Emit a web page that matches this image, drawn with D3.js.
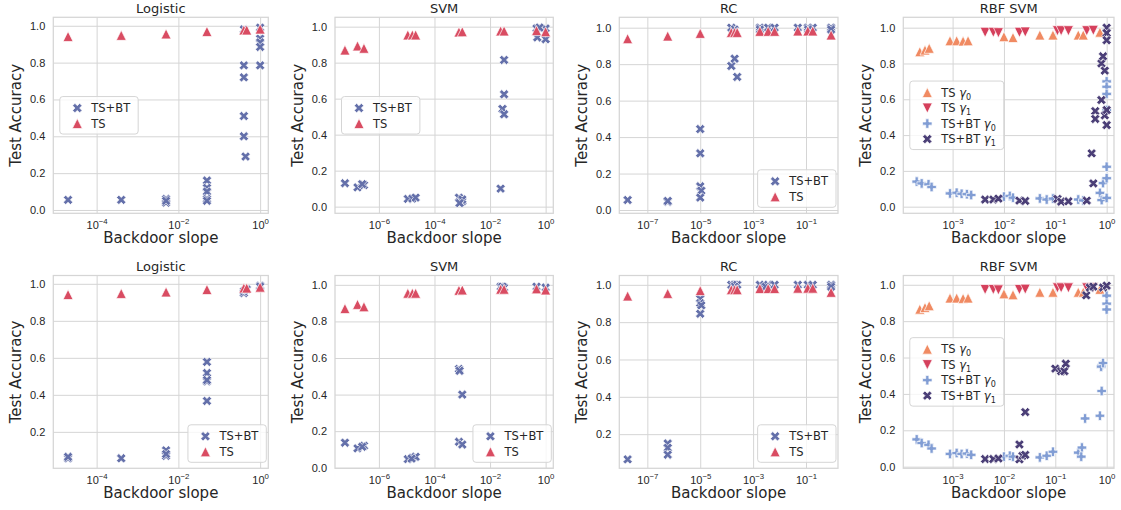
<!DOCTYPE html>
<html>
<head>
<meta charset="utf-8">
<script src="https://cdn.jsdelivr.net/npm/d3@7"></script>
<style>
  body { margin: 0; background: #fff; }
  svg { font-family: "DejaVu Sans", sans-serif; }
</style>
</head>
<body>
<svg id="chart" width="1121" height="510"></svg>
<script>

// ---- data: [backdoor slope, test accuracy] ----
var logisticTS = [[2e-5,0.942],[4e-4,0.948],[5e-3,0.956],[5e-2,0.969],[0.4,0.977],[0.47,0.977],[1.0,0.982]];
var logisticTopBT = [[2e-5,0.055],[4e-4,0.055],[5e-3,0.04],[5e-3,0.06],[5e-3,0.05],[5e-2,0.16],[5e-2,0.12],[5e-2,0.1],
  [5e-2,0.06],[5e-2,0.05],[0.4,0.785],[0.4,0.72],[0.4,0.51],[0.4,0.40],[0.44,0.29],[0.4,0.98],[1.0,0.785],[1.0,0.93],
  [1.0,0.91],[1.0,0.885],[1.0,0.99]];
var logisticBotBT = [[2e-5,0.057],[2e-5,0.065],[4e-4,0.057],[5e-3,0.10],[5e-3,0.07],[5e-3,0.08],[5e-2,0.578],[5e-2,0.518],
  [5e-2,0.473],[5e-2,0.48],[5e-2,0.367],[0.4,0.95],[0.4,0.96],[0.47,0.97],[1.0,0.99],[1.0,0.985]];

var svmTS = [[6e-8,0.87],[1.7e-7,0.893],[2.9e-7,0.88],[1.1e-5,0.954],[1.6e-5,0.954],[2.1e-5,0.954],[7.6e-4,0.97],
  [1e-3,0.972],[0.024,0.976],[0.032,0.976],[0.47,0.978],[1.0,0.972]];
var svmTopBT = [[6e-8,0.13],[1.7e-7,0.107],[2.9e-7,0.12],[2.5e-7,0.125],[1.1e-5,0.043],[1.6e-5,0.045],[2.1e-5,0.05],
  [7.6e-4,0.05],[1e-3,0.03],[1e-3,0.04],[8e-4,0.02],[0.024,0.10],[0.032,0.815],[0.032,0.624],[0.028,0.543],[0.032,0.513],
  [0.47,0.99],[0.5,0.94],[1.0,0.93],[1.0,0.99],[0.6,0.995]];
var svmBotBT = [[6e-8,0.137],[1.7e-7,0.106],[2.9e-7,0.12],[2.5e-7,0.115],[1.1e-5,0.047],[1.6e-5,0.055],[2.1e-5,0.06],
  [1.5e-5,0.05],[7.6e-4,0.54],[8e-4,0.53],[1e-3,0.40],[7.6e-4,0.142],[1e-3,0.127],[0.024,0.99],[0.032,0.985],
  [0.028,0.99],[0.47,0.99],[1.0,0.985]];

var rcTS = [[1.8e-8,0.94],[5.9e-7,0.954],[1e-5,0.969],[1.5e-4,0.974],[2e-4,0.974],[2.5e-4,0.974],[1.8e-3,0.98],
  [3.7e-3,0.98],[6.5e-3,0.98],[0.049,0.982],[0.117,0.982],[0.18,0.982],[0.89,0.96]];
var rcTopBT = [[1.8e-8,0.055],[5.9e-7,0.045],[5.9e-7,0.05],[1e-5,0.444],[1e-5,0.311],[1e-5,0.13],[1.1e-5,0.106],
  [1e-5,0.068],[1.5e-4,0.79],[2e-4,0.83],[2.5e-4,0.73],[1.5e-4,1.0],[2e-4,0.99],[1.8e-3,1.0],[3.7e-3,1.0],[6.5e-3,1.0],
  [1.8e-3,0.99],[0.049,1.0],[0.117,1.0],[0.18,1.0],[0.12,0.99],[0.89,1.0],[0.89,0.99]];
var rcBotBT = [[1.8e-8,0.065],[5.9e-7,0.15],[5.9e-7,0.127],[5.9e-7,0.09],[1e-5,0.925],[1e-5,0.902],[1.1e-5,0.89],
  [1e-5,0.845],[1.5e-4,1.0],[2e-4,1.0],[2.5e-4,1.0],[2e-4,0.99],[1.8e-3,1.0],[3.7e-3,1.0],[6.5e-3,1.0],[3e-3,0.99],
  [0.049,1.0],[0.117,1.0],[0.18,1.0],[0.89,1.0],[0.89,0.99]];

var rbfTS0 = [[2.3e-4,0.866],[2.9e-4,0.875],[3.5e-4,0.885],[8.9e-4,0.927],[1.2e-3,0.927],[1.6e-3,0.925],[2e-3,0.927],
  [0.01,0.95],[0.015,0.945],[0.05,0.959],[0.09,0.959],[0.28,0.959],[0.35,0.959],[0.74,0.975]];
var rbfTS1 = [[4.3e-3,0.974],[6.2e-3,0.974],[7.8e-3,0.972],[0.02,0.974],[0.026,0.976],[0.11,0.983],[0.13,0.983],
  [0.18,0.983],[0.41,0.983],[0.55,0.985]];
var rbfTopBT0 = [[2e-4,0.14],[2.5e-4,0.13],[3.4e-4,0.125],[3.9e-4,0.11],[8.9e-4,0.074],[1.2e-3,0.078],[1.5e-3,0.072],
  [1.9e-3,0.07],[2.3e-3,0.065],[0.01,0.056],[0.013,0.06],[0.015,0.05],[0.05,0.046],[0.068,0.04],[0.09,0.045],[0.28,0.04],
  [0.35,0.035],[0.74,0.077],[0.8,0.037],[0.85,0.132],[1.0,0.159],[1.0,0.223],[1.0,0.049],[1.0,0.70],[1.0,0.67],
  [1.0,0.63],[1.0,0.54]];
var rbfTopBT1 = [[4.3e-3,0.04],[6.2e-3,0.04],[7.8e-3,0.045],[0.02,0.034],[0.026,0.032],[0.11,0.043],[0.13,0.028],
  [0.18,0.03],[0.41,0.034],[0.51,0.298],[0.55,0.13],[0.6,0.534],[0.6,0.49],[0.79,0.80],[0.79,0.596],[0.85,0.84],
  [0.92,0.76],[0.92,0.51],[1.0,1.0],[1.0,0.97],[1.0,0.93],[1.0,0.456],[1.0,0.54]];
var rbfBotBT0 = [[2e-4,0.15],[2.5e-4,0.13],[3.4e-4,0.12],[3.9e-4,0.10],[8.9e-4,0.07],[1.2e-3,0.075],[1.5e-3,0.07],
  [1.9e-3,0.072],[2.3e-3,0.065],[0.01,0.055],[0.013,0.06],[0.015,0.055],[0.05,0.051],[0.068,0.06],[0.09,0.082],
  [0.28,0.077],[0.33,0.105],[0.32,0.055],[0.38,0.265],[0.74,0.28],[0.8,0.416],[0.8,0.557],[0.78,0.55],[0.85,0.57],
  [1.0,0.94],[1.0,0.896],[1.0,0.864]];
var rbfBotBT1 = [[4.3e-3,0.042],[6.2e-3,0.042],[7.8e-3,0.045],[0.02,0.122],[0.02,0.04],[0.023,0.06],[0.026,0.065],
  [0.026,0.30],[0.1,0.539],[0.13,0.525],[0.15,0.525],[0.16,0.566],[0.4,0.942],[0.47,0.985],[0.55,0.99],[0.85,0.985],
  [1.0,0.995]];

// tick exponents per model
var logisticTicks = [-4, -2, 0];
var svmTicks = [-6, -4, -2, 0];
var rcTicks = [-7, -5, -3, -1];
var rbfTicks = [-3, -2, -1, 0];
var yTicks = [0, 0.2, 0.4, 0.6, 0.8, 1.0];

var titles = ["Logistic", "SVM", "RC", "RBF SVM"];
var labelsTwo = ["TS+BT", "TS"];
var labelsRbf = ["TS γ0", "TS γ1", "TS+BT γ0", "TS+BT γ1"];

// ---- layout ----
var cols = [{l: 53.3, r: 268.3}, {l: 335, r: 553.3}, {l: 619.3, r: 838}, {l: 903.3, r: 1114}];
var rows = [{t: 17.3, b: 213.3}, {t: 275.5, b: 468.3}];

var C = {bt: "#6470aa", ts: "#d94c62", ts0: "#f08a62", ts1: "#d5405c", bt0: "#819dd4", bt1: "#4b3f77"};

function two(bt, ts) {
  return [
    {label: labelsTwo[0], data: bt, shape: "x", color: C.bt},
    {label: labelsTwo[1], data: ts, shape: "up", color: C.ts}
  ];
}
function four(bt0, bt1) {
  return [
    {label: labelsRbf[0], data: rbfTS0, shape: "up", color: C.ts0},
    {label: labelsRbf[1], data: rbfTS1, shape: "down", color: C.ts1},
    {label: labelsRbf[2], data: bt0, shape: "plus", color: C.bt0},
    {label: labelsRbf[3], data: bt1, shape: "x", color: C.bt1}
  ];
}

var panels = [
  {row: 0, col: 0, xd: [-5.06, 0.20], yd: [-0.018, 1.046], ticks: logisticTicks, series: two(logisticTopBT, logisticTS), legend: "left"},
  {row: 0, col: 1, xd: [-7.58, 0.276], yd: [-0.037, 1.052], ticks: svmTicks, series: two(svmTopBT, svmTS), legend: "left"},
  {row: 0, col: 2, xd: [-8.06, 0.21], yd: [-0.018, 1.057], ticks: rcTicks, series: two(rcTopBT, rcTS), legend: "lowerright"},
  {row: 0, col: 3, xd: [-3.96, 0.143], yd: [-0.037, 1.058], ticks: rbfTicks, series: four(rbfTopBT0, rbfTopBT1), legend: "left"},
  {row: 1, col: 0, xd: [-5.06, 0.20], yd: [0.003, 1.045], ticks: logisticTicks, series: two(logisticBotBT, logisticTS), legend: "lowerright"},
  {row: 1, col: 1, xd: [-7.58, 0.276], yd: [-0.003, 1.051], ticks: svmTicks, series: two(svmBotBT, svmTS), legend: "lowerright"},
  {row: 1, col: 2, xd: [-8.06, 0.21], yd: [0.017, 1.05], ticks: rcTicks, series: two(rcBotBT, rcTS), legend: "lowerright"},
  {row: 1, col: 3, xd: [-3.96, 0.143], yd: [-0.009, 1.051], ticks: rbfTicks, series: four(rbfBotBT0, rbfBotBT1), legend: "left"}
];

// matplotlib-like filled markers
function markerPath(shape, size) {
  var h = size / 2, a = h / 3;
  if (shape === "up") return "M0," + (-h) + "L" + h + "," + h + "L" + (-h) + "," + h + "Z";
  if (shape === "down") return "M0," + h + "L" + h + "," + (-h) + "L" + (-h) + "," + (-h) + "Z";
  var pts = [[-a,-h],[a,-h],[a,-a],[h,-a],[h,a],[a,a],[a,h],[-a,h],[-a,a],[-h,a],[-h,-a],[-a,-a]];
  if (shape === "x") {
    var c = Math.SQRT1_2;
    pts = pts.map(function(p) { return [(p[0] - p[1]) * c, (p[0] + p[1]) * c]; });
  }
  return "M" + pts.map(function(p) { return p[0].toFixed(2) + "," + p[1].toFixed(2); }).join("L") + "Z";
}

var markerSize = {up: 10, down: 10, plus: 9.5, x: 10};
var textColor = "#262626", gridColor = "#d5d5d5";

var svg = d3.select("#chart");

function addLabel(sel, label) {
  // "TS γ0" -> TS + italic gamma + subscript
  var m = label.match(/^(.*)γ(\d)$/);
  if (!m) { sel.text(label); return; }
  sel.append("tspan").text(m[1]);
  sel.append("tspan").attr("font-style", "italic").text("γ");
  sel.append("tspan").attr("font-size", "0.7em").attr("dy", 3).text(m[2]);
}

panels.forEach(function(p) {
  var c = cols[p.col], r = rows[p.row];
  var w = c.r - c.l, h = r.b - r.t;

  var x = d3.scaleLog()
    .domain([Math.pow(10, p.xd[0]), Math.pow(10, p.xd[1])])
    .range([0, w]);
  var y = d3.scaleLinear()
    .domain(p.yd)
    .range([h, 0]);

  var g = svg.append("g")
    .attr("transform", "translate(" + c.l + "," + r.t + ")");

  // x grid + tick labels
  var xAxis = d3.axisBottom(x)
    .tickValues(p.ticks.map(function(e) { return Math.pow(10, e); }))
    .tickSize(-h)
    .tickPadding(7.5)
    .tickFormat("");
  var gx = g.append("g")
    .attr("transform", "translate(0," + h + ")")
    .call(xAxis);
  gx.select(".domain").remove();
  gx.selectAll("line").attr("stroke", gridColor).attr("stroke-width", 1);
  gx.selectAll("text")
    .attr("fill", textColor)
    .attr("font-size", 11)
    .each(function(d) {
      var t = d3.select(this);
      var e = Math.round(Math.log10(d));
      t.append("tspan").text("10");
      t.append("tspan").attr("font-size", 7.8).attr("dy", -4.5)
        .text(e < 0 ? "\u2212" + (-e) : String(e));
    });

  // y grid + tick labels
  var yAxis = d3.axisLeft(y)
    .tickValues(yTicks.filter(function(v) { return v >= p.yd[0] && v <= p.yd[1]; }))
    .tickSize(-w)
    .tickPadding(8)
    .tickFormat(d3.format(".1f"));
  var gy = g.append("g").call(yAxis);
  gy.select(".domain").remove();
  gy.selectAll("line").attr("stroke", gridColor).attr("stroke-width", 1);
  gy.selectAll("text").attr("fill", textColor).attr("font-size", 11);

  // frame
  g.append("rect")
    .attr("width", w).attr("height", h)
    .attr("fill", "none")
    .attr("stroke", gridColor)
    .attr("stroke-width", 1.25);

  // points
  p.series.forEach(function(s) {
    g.append("g")
      .selectAll("path")
      .data(s.data)
      .join("path")
      .attr("d", markerPath(s.shape, markerSize[s.shape]))
      .attr("transform", function(d) { return "translate(" + x(d[0]) + "," + y(d[1]) + ")"; })
      .attr("fill", s.color)
      .attr("stroke", "#fff")
      .attr("stroke-width", 0.7);
  });

  // titles and axis labels
  g.append("text")
    .attr("x", w / 2).attr("y", -4.5)
    .attr("text-anchor", "middle")
    .attr("font-size", 13)
    .attr("fill", textColor)
    .text(titles[p.col]);

  g.append("text")
    .attr("x", w / 2).attr("y", h + 30)
    .attr("text-anchor", "middle")
    .attr("font-size", 15)
    .attr("fill", textColor)
    .text("Backdoor slope");

  g.append("text")
    .attr("transform", "translate(-32," + (h / 2) + ") rotate(-90)")
    .attr("text-anchor", "middle")
    .attr("font-size", 15)
    .attr("fill", textColor)
    .text("Test Accuracy");

  // legend
  var n = p.series.length;
  var lg = g.append("g");
  var box = lg.append("rect")
    .attr("rx", 3)
    .attr("fill", "#fff").attr("fill-opacity", 0.8)
    .attr("stroke", gridColor).attr("stroke-width", 1);
  var maxW = 0;
  p.series.forEach(function(s, i) {
    var yy = 11.5 + i * 15.5;
    lg.append("path")
      .attr("d", markerPath(s.shape, markerSize[s.shape]))
      .attr("transform", "translate(17.5," + yy + ")")
      .attr("fill", s.color)
      .attr("stroke", "#fff").attr("stroke-width", 0.7);
    var t = lg.append("text")
      .attr("x", 31.5).attr("y", yy + 4.2)
      .attr("font-size", 11.5)
      .attr("fill", textColor);
    addLabel(t, s.label);
    maxW = Math.max(maxW, t.node().getComputedTextLength());
  });
  var bw = 31.5 + maxW + 8, bh = 22 + (n - 1) * 15.5;
  box.attr("width", bw).attr("height", bh);
  var lx, ly;
  if (p.legend === "left") { lx = 6.5; ly = h / 2 - bh / 2; }
  else { lx = w - 2 - bw; ly = h - 6 - bh; }
  lg.attr("transform", "translate(" + lx + "," + ly + ")");
});

</script>
</body>
</html>
